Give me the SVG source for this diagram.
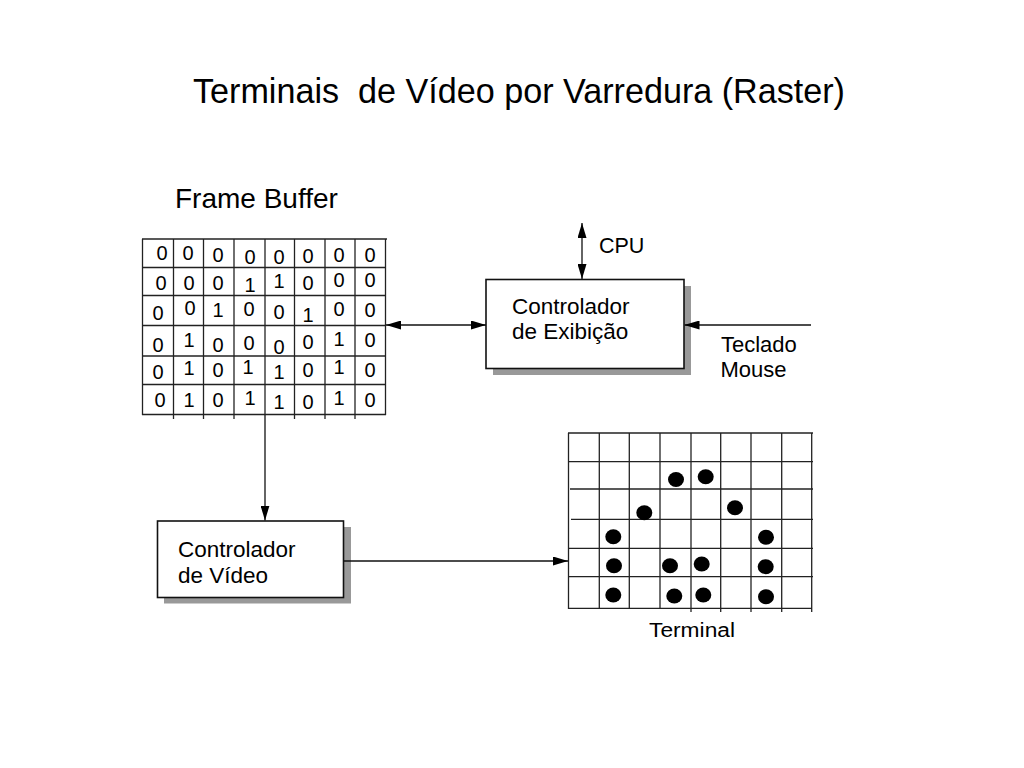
<svg xmlns="http://www.w3.org/2000/svg" width="1024" height="768" viewBox="0 0 1024 768">
<style>
  text { font-family: "Liberation Sans", Arial, sans-serif; fill: #000; }
  .title { font-size: 35px; }
  .lbl { font-size: 22.5px; }
  .d { font-size: 20px; text-anchor: middle; }
  .grid line { stroke: #222; stroke-width: 1.3; }
  .box { fill: #fff; stroke: #111; stroke-width: 1.6; }
  .shadow { fill: #999; }
  .conn { stroke: #111; stroke-width: 1.3; fill: none; }
  .dot { fill: #000; }
</style>
<defs>
  <marker id="arr" viewBox="0 0 15 9" refX="15" refY="4.5" markerWidth="15" markerHeight="9" markerUnits="userSpaceOnUse" orient="auto-start-reverse">
    <path d="M0,0 L15,4.5 L0,9 z" fill="#000"/>
  </marker>
</defs>
<rect width="1024" height="768" fill="#fff"/>

<g id="title">
  <text class="title" x="193" y="102.5" textLength="652" lengthAdjust="spacingAndGlyphs">Terminais&#160; de Vídeo por Varredura (Raster)</text>
</g>

<g id="frame-buffer">
  <text x="175" y="207.5" style="font-size:28px">Frame Buffer</text>
  <g class="grid">
    <line x1="142" y1="239" x2="387" y2="239"/>
    <line x1="142" y1="267.5" x2="386" y2="267.5"/>
    <line x1="142" y1="295.5" x2="386" y2="295.5"/>
    <line x1="142" y1="325.5" x2="386" y2="325.5"/>
    <line x1="142" y1="356" x2="386" y2="356"/>
    <line x1="142" y1="384.5" x2="386" y2="384.5"/>
    <line x1="142" y1="414.5" x2="386" y2="414.5"/>
    <line x1="142.5" y1="239" x2="142.5" y2="415"/>
    <line x1="173.5" y1="239" x2="173.5" y2="419"/>
    <line x1="203.5" y1="239" x2="203.5" y2="419"/>
    <line x1="234" y1="239" x2="234" y2="419"/>
    <line x1="265" y1="239" x2="265" y2="415"/>
    <line x1="294.5" y1="239" x2="294.5" y2="419"/>
    <line x1="325" y1="239" x2="325" y2="419"/>
    <line x1="355" y1="239" x2="355" y2="419"/>
    <line x1="385.5" y1="239" x2="385.5" y2="415"/>
  </g>
  <g id="bits">
    <text class="d" x="162" y="260">0</text><text class="d" x="188" y="260">0</text><text class="d" x="218" y="262">0</text><text class="d" x="250" y="264">0</text><text class="d" x="279" y="264">0</text><text class="d" x="308" y="263">0</text><text class="d" x="339" y="262">0</text><text class="d" x="370" y="262">0</text>
    <text class="d" x="161" y="290">0</text><text class="d" x="189" y="290">0</text><text class="d" x="218" y="290">0</text><text class="d" x="250" y="292">1</text><text class="d" x="279" y="288">1</text><text class="d" x="308" y="290">0</text><text class="d" x="339" y="287">0</text><text class="d" x="370" y="287">0</text>
    <text class="d" x="158" y="320">0</text><text class="d" x="190" y="315">0</text><text class="d" x="218" y="317">1</text><text class="d" x="249" y="316">0</text><text class="d" x="279" y="319">0</text><text class="d" x="308" y="322">1</text><text class="d" x="339" y="316">0</text><text class="d" x="370" y="317">0</text>
    <text class="d" x="158" y="352">0</text><text class="d" x="189" y="347">1</text><text class="d" x="218" y="352">0</text><text class="d" x="249" y="350">0</text><text class="d" x="279" y="354">0</text><text class="d" x="308" y="349">0</text><text class="d" x="339" y="346">1</text><text class="d" x="370" y="347">0</text>
    <text class="d" x="158" y="379">0</text><text class="d" x="189" y="375">1</text><text class="d" x="218" y="377">0</text><text class="d" x="248" y="374">1</text><text class="d" x="279" y="379">1</text><text class="d" x="308" y="377">0</text><text class="d" x="339" y="374">1</text><text class="d" x="370" y="377">0</text>
    <text class="d" x="160" y="407">0</text><text class="d" x="189" y="407">1</text><text class="d" x="218" y="407">0</text><text class="d" x="250" y="405">1</text><text class="d" x="279" y="409">1</text><text class="d" x="308" y="409">0</text><text class="d" x="339" y="405">1</text><text class="d" x="370" y="407">0</text>
  </g>
</g>

<g id="controlador-exibicao">
  <rect class="shadow" x="493" y="286" width="198" height="89"/>
  <rect class="box" x="486" y="279.5" width="198" height="89"/>
  <text class="lbl" x="512" y="314">Controlador</text>
  <text class="lbl" x="512" y="339">de Exibição</text>
</g>

<g id="controlador-video">
  <rect class="shadow" x="164" y="527" width="187" height="76.5"/>
  <rect class="box" x="157.5" y="521" width="186" height="76.5"/>
  <text class="lbl" x="178" y="556.5">Controlador</text>
  <text class="lbl" x="178" y="582.5">de Vídeo</text>
</g>

<g id="cpu">
  <text x="599" y="253" style="font-size:21.5px">CPU</text>
</g>

<g id="teclado-mouse">
  <text x="721" y="352" style="font-size:22px">Teclado</text>
  <text x="720.5" y="377" style="font-size:22px">Mouse</text>
</g>

<g id="terminal">
  <g class="grid">
    <line x1="568" y1="433" x2="813" y2="433"/>
    <line x1="568" y1="461.7" x2="813" y2="461.7"/>
    <line x1="570" y1="489" x2="813" y2="489"/>
    <line x1="571" y1="519.3" x2="813" y2="519.3"/>
    <line x1="568" y1="548.3" x2="813" y2="548.3"/>
    <line x1="568" y1="576.7" x2="813" y2="576.7"/>
    <line x1="568" y1="608.3" x2="812" y2="608.3"/>
    <line x1="568.5" y1="433" x2="568.5" y2="609"/>
    <line x1="599.3" y1="433" x2="599.3" y2="609"/>
    <line x1="629.3" y1="433" x2="629.3" y2="609"/>
    <line x1="660" y1="433" x2="660" y2="609"/>
    <line x1="691" y1="433" x2="691" y2="612"/>
    <line x1="720.7" y1="433" x2="720.7" y2="612"/>
    <line x1="751" y1="433" x2="751" y2="612"/>
    <line x1="781.7" y1="433" x2="781.7" y2="612"/>
    <line x1="811.7" y1="433" x2="811.7" y2="612"/>
  </g>
  <g id="pixels">
    <ellipse class="dot" cx="676" cy="479.5" rx="8" ry="7.5"/>
    <ellipse class="dot" cx="705.7" cy="476.7" rx="8" ry="7.5"/>
    <ellipse class="dot" cx="644.3" cy="512.7" rx="8" ry="7.5"/>
    <ellipse class="dot" cx="735" cy="507.7" rx="8" ry="7.5"/>
    <ellipse class="dot" cx="613.3" cy="536.7" rx="8" ry="7.5"/>
    <ellipse class="dot" cx="766" cy="537.3" rx="8" ry="7.5"/>
    <ellipse class="dot" cx="614" cy="565.7" rx="8" ry="7.5"/>
    <ellipse class="dot" cx="670" cy="565.7" rx="8" ry="7.5"/>
    <ellipse class="dot" cx="701.7" cy="564" rx="8" ry="7.5"/>
    <ellipse class="dot" cx="765.7" cy="566.7" rx="8" ry="7.5"/>
    <ellipse class="dot" cx="613.3" cy="595" rx="8" ry="7.5"/>
    <ellipse class="dot" cx="674.3" cy="596" rx="8" ry="7.5"/>
    <ellipse class="dot" cx="703.3" cy="595" rx="8" ry="7.5"/>
    <ellipse class="dot" cx="766" cy="596.7" rx="8" ry="7.5"/>
  </g>
  <text x="649" y="636.5" style="font-size:20px" textLength="86" lengthAdjust="spacingAndGlyphs">Terminal</text>
</g>

<g id="connectors">
  <path class="conn" d="M582,223 V279" marker-start="url(#arr)" marker-end="url(#arr)"/>
  <path class="conn" d="M386,325 H486" marker-start="url(#arr)" marker-end="url(#arr)"/>
  <path class="conn" d="M811,325 H684.5" marker-end="url(#arr)"/>
  <path class="conn" d="M265,415 V520.5" marker-end="url(#arr)"/>
  <path class="conn" d="M343.5,561 H568" marker-end="url(#arr)"/>
</g>
</svg>
